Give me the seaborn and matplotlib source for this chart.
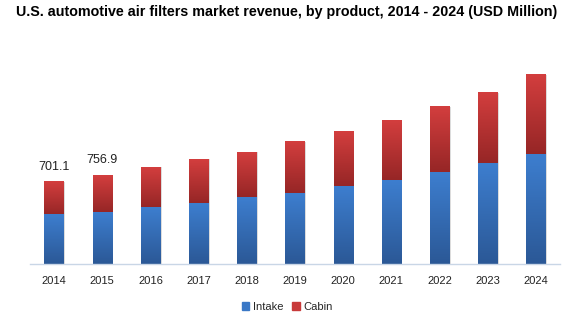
import numpy as np
import pandas as pd
import matplotlib
matplotlib.use("Agg")
import matplotlib.pyplot as plt
import seaborn as sns
from matplotlib.colors import LinearSegmentedColormap
from matplotlib.patches import Patch

years = ["2014", "2015", "2016", "2017", "2018", "2019", "2020", "2021", "2022", "2023", "2024"]
intake = [419, 444, 486, 520, 571, 606, 665, 716, 785, 862, 940]
cabin = [282.1, 312.9, 340, 374, 383, 441, 469, 510, 560, 602, 678]
label_years = ["2014", "2015"]
label_values = ["701.1", "756.9"]

sns.set_theme(style="white")
plt.rcParams['font.family'] = ['Liberation Sans', 'DejaVu Sans']

df = pd.DataFrame({"year": years, "Intake": intake, "Cabin": cabin})
df["total"] = df["Intake"] + df["Cabin"]

fig = plt.figure(figsize=(5.74, 3.22), dpi=100)
ax = fig.add_axes([30/574, 58/322, 530/574, 234/322])

sns.barplot(data=df, x="year", y="total", color="#c83a3a", width=0.4, ax=ax,
            saturation=1, edgecolor="none")
n_total = len(ax.patches)
sns.barplot(data=df, x="year", y="Intake", color="#3a78c6", width=0.4, ax=ax,
            saturation=1, edgecolor="none")

cab_cmap = LinearSegmentedColormap.from_list("cab", ["#962626", "#d33e3e"])
int_cmap = LinearSegmentedColormap.from_list("int", ["#2b5896", "#3d7ecf"])
grad = np.linspace(0, 1, 256).reshape(-1, 1)

ax.set_ylim(0, 2000)
ax.set_xlim(-0.5, 10.5)

patches = list(ax.patches)
for i, p in enumerate(patches):
    x0, y0 = p.get_x(), p.get_y()
    w, h = p.get_width(), p.get_height()
    if i < n_total:
        ib = patches[n_total + i]
        y0 = ib.get_height()
        h = p.get_height() - y0
        cmap = cab_cmap
    else:
        cmap = int_cmap
    ax.add_patch(plt.Rectangle((x0 + w, y0), 0.03, h, color="#dcdcdc", zorder=1.5, lw=0))
    ax.imshow(grad, extent=[x0, x0 + w, y0, y0 + h], origin="lower", aspect="auto",
              cmap=cmap, zorder=2)
    p.set_visible(False)

ax.set_ylim(0, 2000)
ax.set_xlim(-0.5, 10.5)

for yr, lab in zip(label_years, label_values):
    idx = years.index(yr)
    ax.text(idx, df["total"][idx] + 80, lab, ha="center", va="bottom", fontsize=9, color="#222222")

for s in ["top", "right", "left"]:
    ax.spines[s].set_visible(False)
ax.spines["bottom"].set_color("#c9d6e6")
ax.spines["bottom"].set_linewidth(1)
ax.set_yticks([])
ax.set_xlabel("")
ax.set_ylabel("")
ax.tick_params(axis="x", length=0, pad=9, labelsize=8, colors="#222222")

fig.suptitle("U.S. automotive air filters market revenue, by product, 2014 - 2024 (USD Million)",
             x=0.5, y=0.985, fontsize=10.3, fontweight="bold", color="#000000")

handles = [Patch(color="#3a78c6", label="Intake"), Patch(color="#c83a3a", label="Cabin")]
fig.legend(handles=handles, loc="lower center", bbox_to_anchor=(0.5, 0.0), ncol=2,
           frameon=False, fontsize=8, handlelength=0.7, handleheight=0.7,
           handletextpad=0.3, columnspacing=0.8)

fig.savefig("out.png", dpi=100)
